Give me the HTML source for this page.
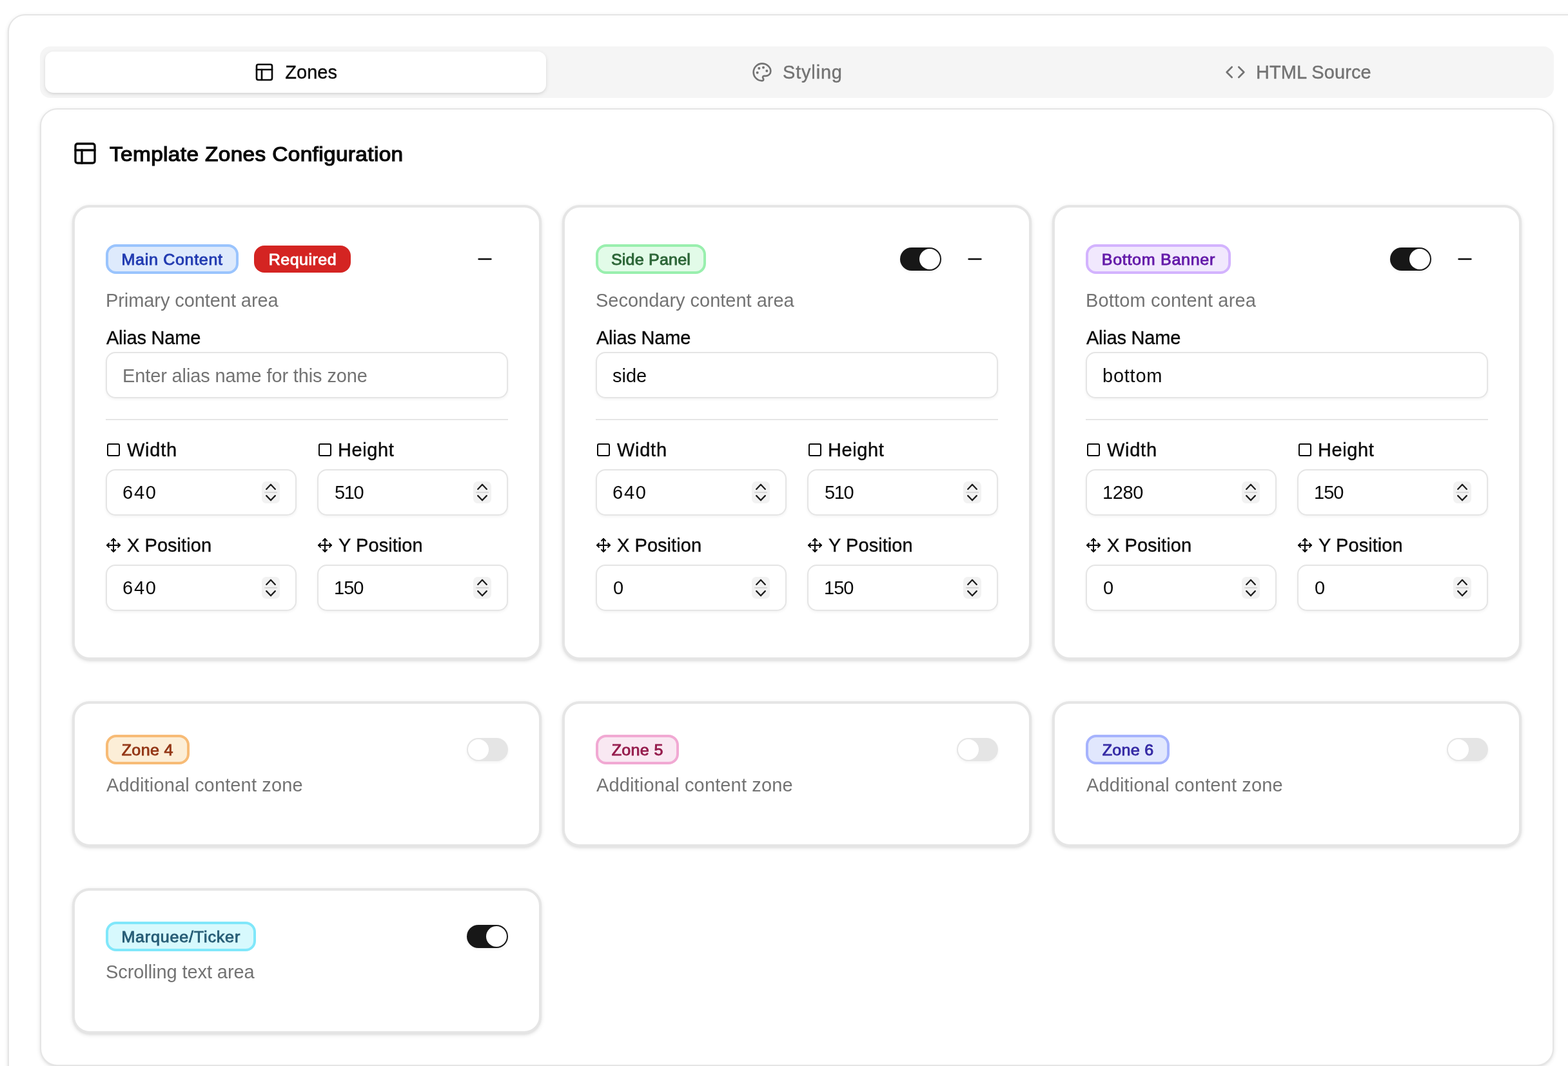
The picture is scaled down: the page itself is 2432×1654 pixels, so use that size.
<!DOCTYPE html>
<html lang="en"><head><meta charset="utf-8"><title>Template Zones Configuration</title>
<style>
*{box-sizing:border-box;margin:0;padding:0}
html,body{width:2432px;height:1654px;overflow:hidden;background:#fff}
body{position:relative;font-family:"Liberation Sans",sans-serif;color:#0a0a0a;-webkit-font-smoothing:antialiased}
.ic{display:block;flex:none}
.t{display:inline-block;white-space:nowrap}
.outer{position:absolute;left:12px;top:22px;width:2448px;height:1800px;border:2px solid #e5e5e5;border-radius:27px;background:#fff;box-shadow:0 2px 6px rgba(0,0,0,.1),0 2px 4px -2px rgba(0,0,0,.1)}
.tabs{position:absolute;left:62px;top:72px;width:2348px;height:80px;background:#f5f5f5;border-radius:16px;padding:8px;display:flex}
.tab{flex:1 1 0;height:64px;display:flex;align-items:center;justify-content:center;gap:16px;border-radius:13px;color:#737373;font-size:29px;line-height:40px}
.tab.on{background:#fff;color:#0a0a0a;box-shadow:0 2px 6px rgba(0,0,0,.1),0 2px 4px -2px rgba(0,0,0,.1)}
.med{-webkit-text-stroke:0.4px currentColor}
.title .semi{-webkit-text-stroke:1.2px currentColor}
.badge .semi{-webkit-text-stroke:0.85px currentColor}
.inner{position:absolute;left:62px;top:168px;width:2348px;height:1486px;border:2px solid #e5e5e5;border-radius:27px;background:#fff;box-shadow:0 2px 6px rgba(0,0,0,.1),0 2px 4px -2px rgba(0,0,0,.1)}
.title{position:absolute;left:112px;top:218px;height:40px;display:flex;align-items:center;gap:16px;font-size:31.5px;line-height:40px}
.zc{position:absolute;width:728px;border:4px solid #e5e5e5;border-radius:27px;background:#fff;padding:48px 48px 0 48px;box-shadow:0 2px 6px rgba(0,0,0,.1),0 2px 4px -2px rgba(0,0,0,.1)}
.zc.big{height:706px}
.zc.small{height:226px}
.row{display:flex;align-items:center;justify-content:space-between}
.big .row{height:64px}
.small .row{height:46px}
.badges{display:flex;align-items:center;gap:24px}
.badge{height:46px;border:4px solid;border-radius:16px;display:flex;align-items:center;justify-content:center;font-size:23px;line-height:32px}
.badge.req{width:150px;height:42px;border:2px solid transparent;background:#d42422;color:#fff;border-radius:16px}
.ctl{display:flex;align-items:center;gap:16px}
.sw{width:64px;height:36px;border-radius:18px;background:#171717;position:relative;box-shadow:0 2px 4px rgba(0,0,0,.05)}
.sw i{position:absolute;top:2px;left:30px;width:32px;height:32px;border-radius:50%;background:#fff}
.sw.off{background:#e5e5e5}
.sw.off i{left:2px}
.btn{width:72px;height:64px;display:flex;align-items:center;justify-content:center}
.desc{margin-top:12px;height:40px;line-height:40px;font-size:29px;color:#737373}
.lab{height:28px;line-height:28px;font-size:29px;display:flex;align-items:center;gap:8px}
.alias{margin-top:24px}
.inp{height:72px;border:2px solid #e5e5e5;border-radius:15px;background:#fff;padding:0 24px;display:flex;align-items:center;justify-content:space-between;font-size:29px;line-height:40px;box-shadow:0 2px 4px rgba(0,0,0,.05)}
.inp.ph{color:#737373}
.sep{margin-top:32px;height:2px;background:#e5e5e5}
.grid{margin-top:32px;display:grid;grid-template-columns:296px 296px;column-gap:32px;row-gap:32px}
.f .inp{margin-top:16px}
.spin{width:28px;height:34px;border-radius:7px;background:#f2f2f2;display:block}
</style></head><body>
<main class="outer"></main>
<div class="tabs" role="tablist">
<div class="tab on" role="tab" aria-selected="true"><svg class="ic" width="32" height="32" viewBox="0 0 24 24" fill="none" stroke="currentColor" stroke-width="2" stroke-linecap="round" stroke-linejoin="round" ><rect width="18" height="18" x="3" y="3" rx="2" ry="2"/><line x1="3" x2="21" y1="9" y2="9"/><line x1="9" x2="9" y1="21" y2="9"/></svg><span class="t med" id="tab1">Zones</span></div>
<div class="tab" role="tab" aria-selected="false"><svg class="ic" width="32" height="32" viewBox="0 0 24 24" fill="none" stroke="currentColor" stroke-width="2" stroke-linecap="round" stroke-linejoin="round" ><circle cx="13.5" cy="6.5" r="1.5" fill="currentColor" stroke="none"/><circle cx="17.5" cy="10.5" r="1.5" fill="currentColor" stroke="none"/><circle cx="8.5" cy="7.5" r="1.5" fill="currentColor" stroke="none"/><circle cx="6.5" cy="12.5" r="1.5" fill="currentColor" stroke="none"/><path d="M12 2C6.5 2 2 6.5 2 12s4.5 10 10 10c.926 0 1.648-.746 1.648-1.688 0-.437-.18-.835-.437-1.125-.29-.289-.438-.652-.438-1.125a1.64 1.64 0 0 1 1.668-1.668h1.996c3.051 0 5.555-2.503 5.555-5.554C21.965 6.012 17.461 2 12 2z"/></svg><span class="t med" id="tab2" style="letter-spacing:0.83px;margin-right:-0.83px;">Styling</span></div>
<div class="tab" role="tab" aria-selected="false"><svg class="ic" width="32" height="32" viewBox="0 0 24 24" fill="none" stroke="currentColor" stroke-width="2" stroke-linecap="round" stroke-linejoin="round" ><polyline points="16 18 22 12 16 6"/><polyline points="8 6 2 12 8 18"/></svg><span class="t med" id="tab3" style="letter-spacing:0.10px;margin-right:-0.10px;">HTML Source</span></div>
</div>
<section class="inner" aria-label="Template Zones Configuration"></section>
<div class="title"><svg class="ic" width="40" height="40" viewBox="0 0 24 24" fill="none" stroke="currentColor" stroke-width="2" stroke-linecap="round" stroke-linejoin="round" ><rect width="18" height="18" x="3" y="3" rx="2" ry="2"/><line x1="3" x2="21" y1="9" y2="9"/><line x1="9" x2="9" y1="21" y2="9"/></svg><span class="t semi" id="title" style="letter-spacing:0.34px;margin-right:-0.34px;transform:scaleX(1.06);transform-origin:left center;position:relative;left:2.00px;top:1.00px;">Template Zones Configuration</span></div>
<div class="zc big" style="left:112px;top:318px">
<div class="row"><div class="badges"><div class="badge" style="width:206px;border-color:#9ac4fd;background:#deeafc;color:#223bb1"><span class="t semi" id="b1" style="letter-spacing:0.62px;margin-right:-0.62px;transform:scaleX(1.09);transform-origin:center center;position:relative;top:1.00px;">Main Content</span></div><div class="badge req"><span class="t semi" id="req" style="letter-spacing:0.43px;margin-right:-0.43px;transform:scaleX(1.09);transform-origin:center center;position:relative;top:1.00px;">Required</span></div></div><div class="ctl"><div class="btn" role="button" aria-label="Collapse zone"><svg class="ic" width="32" height="32" viewBox="0 0 24 24" fill="none" stroke="currentColor" stroke-width="2" stroke-linecap="round" stroke-linejoin="round" ><path d="M5 12h14"/></svg></div></div></div>
<div class="desc"><span class="t " id="d1" style="letter-spacing:-0.08px;margin-right:0.08px;">Primary content area</span></div>
<div class="lab alias"><span class="t med" id="alias1" style="letter-spacing:-0.22px;margin-right:0.22px;position:relative;left:1.00px;">Alias Name</span></div>
<div class="inp ph" style="margin-top:8px"><span class="t " id="ph" style="letter-spacing:-0.13px;margin-right:0.13px;position:relative;top:1.00px;">Enter alias name for this zone</span></div>
<div class="sep"></div>
<div class="grid">
<div class="f"><div class="lab"><svg class="ic" width="24" height="24" viewBox="0 0 24 24" fill="none" stroke="currentColor" stroke-width="2" stroke-linecap="round" stroke-linejoin="round" ><rect width="18" height="18" x="3" y="3" rx="2"/></svg><span class="t med" id="lw1" style="letter-spacing:0.73px;margin-right:-0.73px;position:relative;left:1.00px;">Width</span></div><div class="inp" role="spinbutton" aria-label="Width"><span class="t " id="vw1" style="letter-spacing:1.80px;margin-right:-1.80px;">640</span><svg class="spin" width="28" height="34" viewBox="0 0 28 34" fill="none" stroke-linecap="round" stroke-linejoin="round"><path d="M4.8 17H23.2" stroke="#d9d9d9" stroke-width="2"/><path d="M7.2 12L14 4.8L20.8 12M7.2 22.1L14 29.3L20.8 22.1" stroke="#1f1f1f" stroke-width="2.3"/></svg></div></div>
<div class="f"><div class="lab"><svg class="ic" width="24" height="24" viewBox="0 0 24 24" fill="none" stroke="currentColor" stroke-width="2" stroke-linecap="round" stroke-linejoin="round" ><rect width="18" height="18" x="3" y="3" rx="2"/></svg><span class="t med" id="lh1" style="letter-spacing:0.58px;margin-right:-0.58px;">Height</span></div><div class="inp" role="spinbutton" aria-label="Height"><span class="t " id="vh1" style="letter-spacing:-1.40px;margin-right:1.40px;position:relative;left:1.00px;">510</span><svg class="spin" width="28" height="34" viewBox="0 0 28 34" fill="none" stroke-linecap="round" stroke-linejoin="round"><path d="M4.8 17H23.2" stroke="#d9d9d9" stroke-width="2"/><path d="M7.2 12L14 4.8L20.8 12M7.2 22.1L14 29.3L20.8 22.1" stroke="#1f1f1f" stroke-width="2.3"/></svg></div></div>
<div class="f"><div class="lab"><svg class="ic" width="24" height="24" viewBox="0 0 24 24" fill="none" stroke="currentColor" stroke-width="2" stroke-linecap="round" stroke-linejoin="round" ><polyline points="5 9 2 12 5 15"/><polyline points="9 5 12 2 15 5"/><polyline points="15 19 12 22 9 19"/><polyline points="19 9 22 12 19 15"/><line x1="2" x2="22" y1="12" y2="12"/><line x1="12" x2="12" y1="2" y2="22"/></svg><span class="t med" id="lx1" style="letter-spacing:0.05px;margin-right:-0.05px;position:relative;left:1.00px;">X Position</span></div><div class="inp" role="spinbutton" aria-label="X Position"><span class="t " id="vx1" style="letter-spacing:1.80px;margin-right:-1.80px;">640</span><svg class="spin" width="28" height="34" viewBox="0 0 28 34" fill="none" stroke-linecap="round" stroke-linejoin="round"><path d="M4.8 17H23.2" stroke="#d9d9d9" stroke-width="2"/><path d="M7.2 12L14 4.8L20.8 12M7.2 22.1L14 29.3L20.8 22.1" stroke="#1f1f1f" stroke-width="2.3"/></svg></div></div>
<div class="f"><div class="lab"><svg class="ic" width="24" height="24" viewBox="0 0 24 24" fill="none" stroke="currentColor" stroke-width="2" stroke-linecap="round" stroke-linejoin="round" ><polyline points="5 9 2 12 5 15"/><polyline points="9 5 12 2 15 5"/><polyline points="15 19 12 22 9 19"/><polyline points="19 9 22 12 19 15"/><line x1="2" x2="22" y1="12" y2="12"/><line x1="12" x2="12" y1="2" y2="22"/></svg><span class="t med" id="ly1" style="letter-spacing:0.07px;margin-right:-0.07px;position:relative;left:1.00px;">Y Position</span></div><div class="inp" role="spinbutton" aria-label="Y Position"><span class="t " id="vy1" style="letter-spacing:-0.95px;margin-right:0.95px;">150</span><svg class="spin" width="28" height="34" viewBox="0 0 28 34" fill="none" stroke-linecap="round" stroke-linejoin="round"><path d="M4.8 17H23.2" stroke="#d9d9d9" stroke-width="2"/><path d="M7.2 12L14 4.8L20.8 12M7.2 22.1L14 29.3L20.8 22.1" stroke="#1f1f1f" stroke-width="2.3"/></svg></div></div>
</div>
</div>
<div class="zc big" style="left:872px;top:318px">
<div class="row"><div class="badges"><div class="badge" style="width:171px;border-color:#99efae;background:#e2fbe8;color:#2b6536"><span class="t semi" id="b2" style="letter-spacing:0.18px;margin-right:-0.18px;transform:scaleX(1.09);transform-origin:center center;position:relative;top:1.00px;">Side Panel</span></div></div><div class="ctl"><div class="sw" role="switch" aria-checked="true"><i></i></div><div class="btn" role="button" aria-label="Collapse zone"><svg class="ic" width="32" height="32" viewBox="0 0 24 24" fill="none" stroke="currentColor" stroke-width="2" stroke-linecap="round" stroke-linejoin="round" ><path d="M5 12h14"/></svg></div></div></div>
<div class="desc"><span class="t " id="d2" style="letter-spacing:-0.01px;margin-right:0.01px;">Secondary content area</span></div>
<div class="lab alias"><span class="t med" id="alias2" style="letter-spacing:-0.22px;margin-right:0.22px;position:relative;left:1.00px;">Alias Name</span></div>
<div class="inp" style="margin-top:8px"><span class="t " id="a2" style="position:relative;top:1.00px;">side</span></div>
<div class="sep"></div>
<div class="grid">
<div class="f"><div class="lab"><svg class="ic" width="24" height="24" viewBox="0 0 24 24" fill="none" stroke="currentColor" stroke-width="2" stroke-linecap="round" stroke-linejoin="round" ><rect width="18" height="18" x="3" y="3" rx="2"/></svg><span class="t med" id="lw2" style="letter-spacing:0.72px;margin-right:-0.72px;position:relative;left:1.00px;">Width</span></div><div class="inp" role="spinbutton" aria-label="Width"><span class="t " id="vw2" style="letter-spacing:1.80px;margin-right:-1.80px;">640</span><svg class="spin" width="28" height="34" viewBox="0 0 28 34" fill="none" stroke-linecap="round" stroke-linejoin="round"><path d="M4.8 17H23.2" stroke="#d9d9d9" stroke-width="2"/><path d="M7.2 12L14 4.8L20.8 12M7.2 22.1L14 29.3L20.8 22.1" stroke="#1f1f1f" stroke-width="2.3"/></svg></div></div>
<div class="f"><div class="lab"><svg class="ic" width="24" height="24" viewBox="0 0 24 24" fill="none" stroke="currentColor" stroke-width="2" stroke-linecap="round" stroke-linejoin="round" ><rect width="18" height="18" x="3" y="3" rx="2"/></svg><span class="t med" id="lh2" style="letter-spacing:0.58px;margin-right:-0.58px;">Height</span></div><div class="inp" role="spinbutton" aria-label="Height"><span class="t " id="vh2" style="letter-spacing:-1.40px;margin-right:1.40px;position:relative;left:1.00px;">510</span><svg class="spin" width="28" height="34" viewBox="0 0 28 34" fill="none" stroke-linecap="round" stroke-linejoin="round"><path d="M4.8 17H23.2" stroke="#d9d9d9" stroke-width="2"/><path d="M7.2 12L14 4.8L20.8 12M7.2 22.1L14 29.3L20.8 22.1" stroke="#1f1f1f" stroke-width="2.3"/></svg></div></div>
<div class="f"><div class="lab"><svg class="ic" width="24" height="24" viewBox="0 0 24 24" fill="none" stroke="currentColor" stroke-width="2" stroke-linecap="round" stroke-linejoin="round" ><polyline points="5 9 2 12 5 15"/><polyline points="9 5 12 2 15 5"/><polyline points="15 19 12 22 9 19"/><polyline points="19 9 22 12 19 15"/><line x1="2" x2="22" y1="12" y2="12"/><line x1="12" x2="12" y1="2" y2="22"/></svg><span class="t med" id="lx2" style="letter-spacing:0.05px;margin-right:-0.05px;position:relative;left:1.00px;">X Position</span></div><div class="inp" role="spinbutton" aria-label="X Position"><span class="t " id="vx2" style="position:relative;left:1.00px;">0</span><svg class="spin" width="28" height="34" viewBox="0 0 28 34" fill="none" stroke-linecap="round" stroke-linejoin="round"><path d="M4.8 17H23.2" stroke="#d9d9d9" stroke-width="2"/><path d="M7.2 12L14 4.8L20.8 12M7.2 22.1L14 29.3L20.8 22.1" stroke="#1f1f1f" stroke-width="2.3"/></svg></div></div>
<div class="f"><div class="lab"><svg class="ic" width="24" height="24" viewBox="0 0 24 24" fill="none" stroke="currentColor" stroke-width="2" stroke-linecap="round" stroke-linejoin="round" ><polyline points="5 9 2 12 5 15"/><polyline points="9 5 12 2 15 5"/><polyline points="15 19 12 22 9 19"/><polyline points="19 9 22 12 19 15"/><line x1="2" x2="22" y1="12" y2="12"/><line x1="12" x2="12" y1="2" y2="22"/></svg><span class="t med" id="ly2" style="letter-spacing:0.07px;margin-right:-0.07px;position:relative;left:1.00px;">Y Position</span></div><div class="inp" role="spinbutton" aria-label="Y Position"><span class="t " id="vy2" style="letter-spacing:-0.95px;margin-right:0.95px;">150</span><svg class="spin" width="28" height="34" viewBox="0 0 28 34" fill="none" stroke-linecap="round" stroke-linejoin="round"><path d="M4.8 17H23.2" stroke="#d9d9d9" stroke-width="2"/><path d="M7.2 12L14 4.8L20.8 12M7.2 22.1L14 29.3L20.8 22.1" stroke="#1f1f1f" stroke-width="2.3"/></svg></div></div>
</div>
</div>
<div class="zc big" style="left:1632px;top:318px">
<div class="row"><div class="badges"><div class="badge" style="width:225px;border-color:#d3b3fe;background:#f1e8fd;color:#641aa9"><span class="t semi" id="b3" style="letter-spacing:0.64px;margin-right:-0.64px;transform:scaleX(1.09);transform-origin:center center;position:relative;top:1.00px;">Bottom Banner</span></div></div><div class="ctl"><div class="sw" role="switch" aria-checked="true"><i></i></div><div class="btn" role="button" aria-label="Collapse zone"><svg class="ic" width="32" height="32" viewBox="0 0 24 24" fill="none" stroke="currentColor" stroke-width="2" stroke-linecap="round" stroke-linejoin="round" ><path d="M5 12h14"/></svg></div></div></div>
<div class="desc"><span class="t " id="d3" style="letter-spacing:0.15px;margin-right:-0.15px;">Bottom content area</span></div>
<div class="lab alias"><span class="t med" id="alias3" style="letter-spacing:-0.22px;margin-right:0.22px;position:relative;left:1.00px;">Alias Name</span></div>
<div class="inp" style="margin-top:8px"><span class="t " id="a3" style="letter-spacing:0.76px;margin-right:-0.76px;position:relative;top:1.00px;">bottom</span></div>
<div class="sep"></div>
<div class="grid">
<div class="f"><div class="lab"><svg class="ic" width="24" height="24" viewBox="0 0 24 24" fill="none" stroke="currentColor" stroke-width="2" stroke-linecap="round" stroke-linejoin="round" ><rect width="18" height="18" x="3" y="3" rx="2"/></svg><span class="t med" id="lw3" style="letter-spacing:0.72px;margin-right:-0.72px;position:relative;left:1.00px;">Width</span></div><div class="inp" role="spinbutton" aria-label="Width"><span class="t " id="vw3" style="letter-spacing:-0.40px;margin-right:0.40px;">1280</span><svg class="spin" width="28" height="34" viewBox="0 0 28 34" fill="none" stroke-linecap="round" stroke-linejoin="round"><path d="M4.8 17H23.2" stroke="#d9d9d9" stroke-width="2"/><path d="M7.2 12L14 4.8L20.8 12M7.2 22.1L14 29.3L20.8 22.1" stroke="#1f1f1f" stroke-width="2.3"/></svg></div></div>
<div class="f"><div class="lab"><svg class="ic" width="24" height="24" viewBox="0 0 24 24" fill="none" stroke="currentColor" stroke-width="2" stroke-linecap="round" stroke-linejoin="round" ><rect width="18" height="18" x="3" y="3" rx="2"/></svg><span class="t med" id="lh3" style="letter-spacing:0.58px;margin-right:-0.58px;">Height</span></div><div class="inp" role="spinbutton" aria-label="Height"><span class="t " id="vh3" style="letter-spacing:-0.95px;margin-right:0.95px;">150</span><svg class="spin" width="28" height="34" viewBox="0 0 28 34" fill="none" stroke-linecap="round" stroke-linejoin="round"><path d="M4.8 17H23.2" stroke="#d9d9d9" stroke-width="2"/><path d="M7.2 12L14 4.8L20.8 12M7.2 22.1L14 29.3L20.8 22.1" stroke="#1f1f1f" stroke-width="2.3"/></svg></div></div>
<div class="f"><div class="lab"><svg class="ic" width="24" height="24" viewBox="0 0 24 24" fill="none" stroke="currentColor" stroke-width="2" stroke-linecap="round" stroke-linejoin="round" ><polyline points="5 9 2 12 5 15"/><polyline points="9 5 12 2 15 5"/><polyline points="15 19 12 22 9 19"/><polyline points="19 9 22 12 19 15"/><line x1="2" x2="22" y1="12" y2="12"/><line x1="12" x2="12" y1="2" y2="22"/></svg><span class="t med" id="lx3" style="letter-spacing:0.05px;margin-right:-0.05px;position:relative;left:1.00px;">X Position</span></div><div class="inp" role="spinbutton" aria-label="X Position"><span class="t " id="vx3" style="position:relative;left:1.00px;">0</span><svg class="spin" width="28" height="34" viewBox="0 0 28 34" fill="none" stroke-linecap="round" stroke-linejoin="round"><path d="M4.8 17H23.2" stroke="#d9d9d9" stroke-width="2"/><path d="M7.2 12L14 4.8L20.8 12M7.2 22.1L14 29.3L20.8 22.1" stroke="#1f1f1f" stroke-width="2.3"/></svg></div></div>
<div class="f"><div class="lab"><svg class="ic" width="24" height="24" viewBox="0 0 24 24" fill="none" stroke="currentColor" stroke-width="2" stroke-linecap="round" stroke-linejoin="round" ><polyline points="5 9 2 12 5 15"/><polyline points="9 5 12 2 15 5"/><polyline points="15 19 12 22 9 19"/><polyline points="19 9 22 12 19 15"/><line x1="2" x2="22" y1="12" y2="12"/><line x1="12" x2="12" y1="2" y2="22"/></svg><span class="t med" id="ly3" style="letter-spacing:0.07px;margin-right:-0.07px;position:relative;left:1.00px;">Y Position</span></div><div class="inp" role="spinbutton" aria-label="Y Position"><span class="t " id="vy3" style="position:relative;left:1.00px;">0</span><svg class="spin" width="28" height="34" viewBox="0 0 28 34" fill="none" stroke-linecap="round" stroke-linejoin="round"><path d="M4.8 17H23.2" stroke="#d9d9d9" stroke-width="2"/><path d="M7.2 12L14 4.8L20.8 12M7.2 22.1L14 29.3L20.8 22.1" stroke="#1f1f1f" stroke-width="2.3"/></svg></div></div>
</div>
</div>
<div class="zc small" style="left:112px;top:1088px">
<div class="row"><div class="badges"><div class="badge" style="width:130px;border-color:#f7bb76;background:#fceed7;color:#933615"><span class="t semi" id="b4" style="letter-spacing:0.33px;margin-right:-0.33px;transform:scaleX(1.09);transform-origin:center center;position:relative;top:1.00px;">Zone 4</span></div></div><div class="sw off" role="switch" aria-checked="false"><i></i></div></div>
<div class="desc"><span class="t " id="d4" style="letter-spacing:0.14px;margin-right:-0.14px;position:relative;left:1.00px;">Additional content zone</span></div>
</div>
<div class="zc small" style="left:872px;top:1088px">
<div class="row"><div class="badges"><div class="badge" style="width:129px;border-color:#f1a9d3;background:#f9e8f2;color:#951b4c"><span class="t semi" id="b5" style="letter-spacing:0.29px;margin-right:-0.29px;transform:scaleX(1.09);transform-origin:center center;position:relative;top:1.00px;">Zone 5</span></div></div><div class="sw off" role="switch" aria-checked="false"><i></i></div></div>
<div class="desc"><span class="t " id="d5" style="letter-spacing:0.14px;margin-right:-0.14px;position:relative;left:1.00px;">Additional content zone</span></div>
</div>
<div class="zc small" style="left:1632px;top:1088px">
<div class="row"><div class="badges"><div class="badge" style="width:130px;border-color:#a6b3fd;background:#e1e7fd;color:#352aa5"><span class="t semi" id="b6" style="letter-spacing:0.24px;margin-right:-0.24px;transform:scaleX(1.09);transform-origin:center center;position:relative;top:1.00px;">Zone 6</span></div></div><div class="sw off" role="switch" aria-checked="false"><i></i></div></div>
<div class="desc"><span class="t " id="d6" style="letter-spacing:0.14px;margin-right:-0.14px;position:relative;left:1.00px;">Additional content zone</span></div>
</div>
<div class="zc small" style="left:112px;top:1378px">
<div class="row"><div class="badges"><div class="badge" style="width:233px;border-color:#80e7fa;background:#d7f9fd;color:#275d76"><span class="t semi" id="b7" style="letter-spacing:0.75px;margin-right:-0.75px;transform:scaleX(1.09);transform-origin:center center;position:relative;top:1.00px;">Marquee/Ticker</span></div></div><div class="sw" role="switch" aria-checked="true"><i></i></div></div>
<div class="desc"><span class="t " id="d7" style="letter-spacing:-0.08px;margin-right:0.08px;">Scrolling text area</span></div>
</div>
</body></html>
